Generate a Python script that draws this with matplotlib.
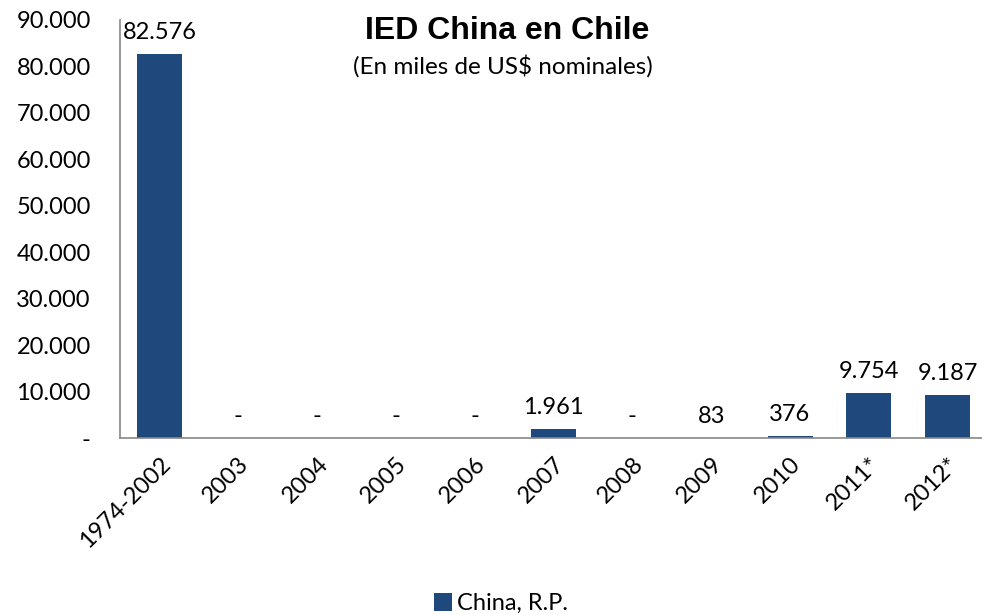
import matplotlib.pyplot as plt
from matplotlib.ticker import FuncFormatter

categories = ['1974-2002', '2003', '2004', '2005', '2006', '2007',
              '2008', '2009', '2010', '2011*', '2012*']
ied_china = [82576, 0, 0, 0, 0, 1961, 0, 83, 376, 9754, 9187]

BAR_COLOR = '#1f497d'
plt.rcParams['font.family'] = ['Lato', 'DejaVu Sans']


def miles(v, pos=None):
    if v == 0:
        return '-'
    return f'{v:,.0f}'.replace(',', '.')


fig = plt.figure(figsize=(9.82, 6.15), dpi=100)
ax = fig.add_axes([0.1222, 0.2878, 0.883, 0.6797])

x = range(len(categories))
bars = ax.bar(x, ied_china, width=0.57, color=BAR_COLOR, label='China, R.P.')

for xi, v in zip(x, ied_china):
    ax.annotate(miles(v), (xi, v), xytext=(0, 8), textcoords='offset points',
                ha='center', va='bottom', fontsize=17)

ax.set_xlim(-0.5, len(categories) - 0.5)
ax.set_ylim(0, 90000)
ax.set_yticks(range(0, 90001, 10000))
ax.yaxis.set_major_formatter(FuncFormatter(miles))
ax.tick_params(axis='y', length=0, labelsize=17, pad=21)
ax.tick_params(axis='x', length=0, labelsize=17, pad=11)
ax.set_xticks(list(x))
ax.set_xticklabels(categories, rotation=45, ha='right', rotation_mode='anchor')

for side in ['top', 'right']:
    ax.spines[side].set_visible(False)
for side in ['left', 'bottom']:
    ax.spines[side].set_color('#888888')
    ax.spines[side].set_linewidth(1.2)

fig.text(0.516, 0.949, 'IED China en Chile', ha='center', va='center',
         fontsize=23, fontweight='bold', family='Liberation Sans')
fig.text(0.512, 0.892, '(En miles de US$ nominales)', ha='center', va='center',
         fontsize=17.5)

fig.legend(handles=[bars], loc='center', bbox_to_anchor=(0.51, 0.019),
           frameon=False, fontsize=17, handlelength=0.8, handleheight=0.8,
           handletextpad=0.2)

fig.savefig('out.png', dpi=100)
